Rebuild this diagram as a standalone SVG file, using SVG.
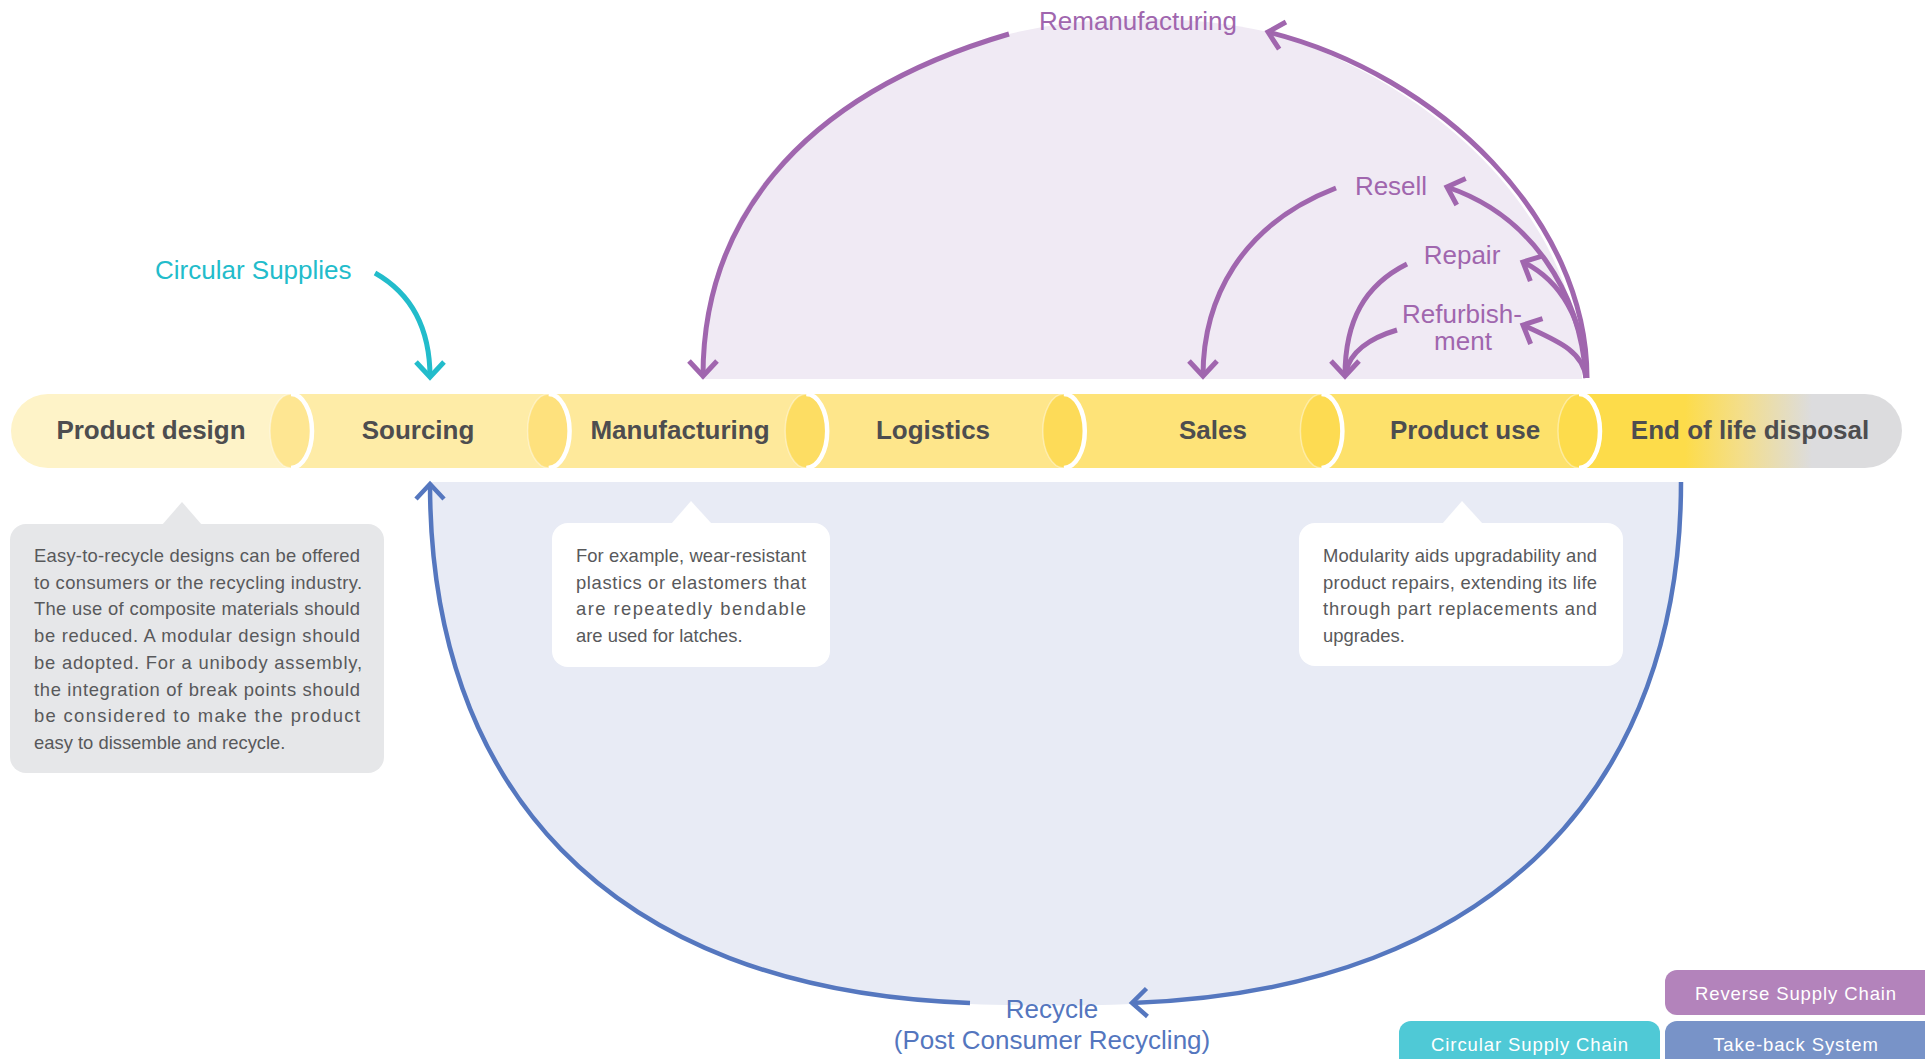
<svg xmlns="http://www.w3.org/2000/svg" width="1925" height="1059" viewBox="0 0 1925 1059">
<style>
text{font-family:'Liberation Sans',Arial,sans-serif}
.lbl{font-weight:bold;font-size:26px;fill:#4D4D4F;text-anchor:middle}
.note{font-size:18.4px;fill:#58595B}
.pl{font-size:26px;fill:#A066AE;text-anchor:middle}
.bl{font-size:26px;fill:#5476BE;text-anchor:middle}
.cy{font-size:26px;fill:#22BCCB}
.leg{font-size:18.5px;fill:#FFFFFF;letter-spacing:0.9px;text-anchor:middle}
.ap{fill:none;stroke:#A066AE;stroke-width:5}
.ab{fill:none;stroke:#5577BF;stroke-width:4.5}
.ac{fill:none;stroke:#22BCCB;stroke-width:5}
.rim{fill:none;stroke:#FFFFFF;stroke-width:4.5}
.rim2{fill:none;stroke:#FFFFFF;stroke-opacity:0.4;stroke-width:1.5}
</style>
<defs>
<linearGradient id="eol" gradientUnits="userSpaceOnUse" x1="1685" y1="0" x2="1812" y2="0">
<stop offset="0" stop-color="#FDDC4A"/>
<stop offset="0.45" stop-color="#F3DE8C"/>
<stop offset="1" stop-color="#DCDCDE"/>
</linearGradient>
<marker id="mp" viewBox="-22 -22 30 44" markerWidth="30" markerHeight="44" refX="0" refY="0" orient="auto" markerUnits="userSpaceOnUse">
<path d="M-15,-14 L0,0 L-15,14" fill="none" stroke="#A066AE" stroke-width="5"/>
</marker>
<marker id="mb" viewBox="-22 -22 30 44" markerWidth="30" markerHeight="44" refX="0" refY="0" orient="auto" markerUnits="userSpaceOnUse">
<path d="M-15,-14 L0,0 L-15,14" fill="none" stroke="#5577BF" stroke-width="4.5"/>
</marker>
<marker id="mc" viewBox="-22 -22 30 44" markerWidth="30" markerHeight="44" refX="0" refY="0" orient="auto" markerUnits="userSpaceOnUse">
<path d="M-15,-14 L0,0 L-15,14" fill="none" stroke="#22BCCB" stroke-width="5"/>
</marker>
</defs>
<rect width="1925" height="1059" fill="#FFFFFF"/>

<g id="regions">
<path id="reverse-area" d="M701,379 C701,230 780,100 1009,34 C1090,14 1190,14 1268,32 C1440,85 1580,220 1582,379 Z" fill="#F0EAF4"/>
<path id="takeback-area" d="M430,482 L1681,482 C1681,780 1500,990 1132,1004 C1080,1006 1020,1006 970,1004 C600,990 430,780 430,482 Z" fill="#E8EBF5"/>
</g>

<g id="band">
<g id="node-eol">
<path d="M1579,394 L1865,394 A37,37 0 0 1 1865,468 L1579,468 Z" fill="url(#eol)"/>
</g>
<g id="node-product-use">
<path d="M1321.4,394 L1579,394 A21,37 0 0 1 1579,468 L1321.4,468 Z" fill="#FDE16B"/>
</g>
<g id="node-sales">
<path d="M1063.8,394 L1321.4,394 A21,37 0 0 1 1321.4,468 L1063.8,468 Z" fill="#FEE378"/>
</g>
<g id="node-logistics">
<path d="M806.2,394 L1063.8,394 A21,37 0 0 1 1063.8,468 L806.2,468 Z" fill="#FEE68B"/>
</g>
<g id="node-manufacturing">
<path d="M548.6,394 L806.2,394 A21,37 0 0 1 806.2,468 L548.6,468 Z" fill="#FEE99B"/>
</g>
<g id="node-sourcing">
<path d="M291,394 L548.6,394 A21,37 0 0 1 548.6,468 L291,468 Z" fill="#FEECA7"/>
</g>
<g id="node-product-design">
<path d="M48,394 L291,394 A21,37 0 0 1 291,468 L48,468 A37,37 0 0 1 48,394 Z" fill="#FEF3C8"/>
</g>
<g id="caps">
<ellipse cx="291" cy="431" rx="21" ry="37" fill="#FEE692"/>
<ellipse cx="548.6" cy="431" rx="21" ry="37" fill="#FEE17D"/>
<ellipse cx="806.2" cy="431" rx="21" ry="37" fill="#FDDD63"/>
<ellipse cx="1063.8" cy="431" rx="21" ry="37" fill="#FDDB58"/>
<ellipse cx="1321.4" cy="431" rx="21" ry="37" fill="#FDDB52"/>
<ellipse cx="1579" cy="431" rx="21" ry="37" fill="#FDDC4C"/>
<path class="rim2" d="M291,394 A21,37 0 0 0 291,468 M548.6,394 A21,37 0 0 0 548.6,468 M806.2,394 A21,37 0 0 0 806.2,468 M1063.8,394 A21,37 0 0 0 1063.8,468 M1321.4,394 A21,37 0 0 0 1321.4,468 M1579,394 A21,37 0 0 0 1579,468"/>
<path class="rim" d="M291,394 A21,37 0 0 1 291,468 M548.6,394 A21,37 0 0 1 548.6,468 M806.2,394 A21,37 0 0 1 806.2,468 M1063.8,394 A21,37 0 0 1 1063.8,468 M1321.4,394 A21,37 0 0 1 1321.4,468 M1579,394 A21,37 0 0 1 1579,468"/>
</g>
<text class="lbl" x="151" y="439">Product design</text>
<text class="lbl" x="418" y="439">Sourcing</text>
<text class="lbl" x="680" y="439">Manufacturing</text>
<text class="lbl" x="933" y="439">Logistics</text>
<text class="lbl" x="1213" y="439">Sales</text>
<text class="lbl" x="1465" y="439">Product use</text>
<text class="lbl" x="1750" y="439">End of life disposal</text>
</g>

<g id="connectors">
<path class="ap" d="M1009,34 C790,98 703,230 703,376" marker-end="url(#mp)"/>
<path class="ap" d="M1587,378 C1587,220 1440,75 1268,32" marker-end="url(#mp)"/>
<path class="ap" d="M1336,188 C1240,225 1203,300 1203,376" marker-end="url(#mp)"/>
<path class="ap" d="M1586,378 C1580,290 1530,215 1447,187" marker-end="url(#mp)"/>
<path class="ap" d="M1407,264 C1365,285 1345,320 1345,376" marker-end="url(#mp)"/>
<path class="ap" d="M1397,330 C1370,338 1350,352 1346,372"/>
<path class="ap" d="M1586,378 C1585,320 1560,280 1523,262" marker-end="url(#mp)"/>
<path class="ap" d="M1586,378 C1583,350 1555,340 1523,325" marker-end="url(#mp)"/>
<path class="ac" d="M375,273 C405,290 430,320 430,377" marker-end="url(#mc)"/>
<path class="ab" d="M970,1003 C600,990 430,780 430,484" marker-end="url(#mb)"/>
<path class="ab" d="M1681,482 C1681,780 1500,990 1132,1003" marker-end="url(#mb)"/>
</g>

<g id="flow-labels">
<text class="pl" x="1138" y="30">Remanufacturing</text>
<text class="pl" x="1391" y="195">Resell</text>
<text class="pl" x="1462" y="264">Repair</text>
<text class="pl" x="1462" y="323">Refurbish-</text>
<text class="pl" x="1463" y="350">ment</text>
<text class="cy" x="155" y="279">Circular Supplies</text>
<text class="bl" x="1052" y="1018">Recycle</text>
<text class="bl" x="1052" y="1049">(Post Consumer Recycling)</text>
</g>

<g id="note-design">
<path d="M162,525 L182,502 L202,525 Z" fill="#E6E7E9"/>
<rect x="10" y="524" width="374" height="249" rx="16" fill="#E6E7E9"/>
<text class="note" x="34" y="562" textLength="326" lengthAdjust="spacing">Easy-to-recycle designs can be offered</text>
<text class="note" x="34" y="588.7" textLength="328" lengthAdjust="spacing">to consumers or the recycling industry.</text>
<text class="note" x="34" y="615.4" textLength="326" lengthAdjust="spacing">The use of composite materials should</text>
<text class="note" x="34" y="642.1" textLength="326" lengthAdjust="spacing">be reduced. A modular design should</text>
<text class="note" x="34" y="668.8" textLength="328" lengthAdjust="spacing">be adopted. For a unibody assembly,</text>
<text class="note" x="34" y="695.5" textLength="326" lengthAdjust="spacing">the integration of break points should</text>
<text class="note" x="34" y="722.2" textLength="326" lengthAdjust="spacing">be considered to make the product</text>
<text class="note" x="34" y="748.9">easy to dissemble and recycle.</text>
</g>

<g id="note-manufacturing">
<path d="M671,524 L691,501 L712,524 Z" fill="#FFFFFF"/>
<rect x="552" y="523" width="278" height="144" rx="16" fill="#FFFFFF"/>
<text class="note" x="576" y="562" textLength="230" lengthAdjust="spacing">For example, wear-resistant</text>
<text class="note" x="576" y="588.7" textLength="230" lengthAdjust="spacing">plastics or elastomers that</text>
<text class="note" x="576" y="615.4" textLength="230" lengthAdjust="spacing">are repeatedly bendable</text>
<text class="note" x="576" y="642.1">are used for latches.</text>
</g>

<g id="note-product-use">
<path d="M1442,524 L1462,501 L1483,524 Z" fill="#FFFFFF"/>
<rect x="1299" y="523" width="324" height="143" rx="16" fill="#FFFFFF"/>
<text class="note" x="1323" y="562" textLength="274" lengthAdjust="spacing">Modularity aids upgradability and</text>
<text class="note" x="1323" y="588.7" textLength="274" lengthAdjust="spacing">product repairs, extending its life</text>
<text class="note" x="1323" y="615.4" textLength="274" lengthAdjust="spacing">through part replacements and</text>
<text class="note" x="1323" y="642.1">upgrades.</text>
</g>

<g id="legend">
<g id="legend-reverse">
<rect x="1665" y="970" width="275" height="45" rx="12" fill="#B383BB"/>
<text class="leg" x="1796" y="1000">Reverse Supply Chain</text>
</g>
<g id="legend-circular">
<rect x="1399" y="1021" width="261" height="60" rx="12" fill="#4FC9D6"/>
<text class="leg" x="1530" y="1051">Circular Supply Chain</text>
</g>
<g id="legend-takeback">
<rect x="1665" y="1021" width="275" height="60" rx="12" fill="#7893C8"/>
<text class="leg" x="1796" y="1051">Take-back System</text>
</g>
</g>
</svg>
